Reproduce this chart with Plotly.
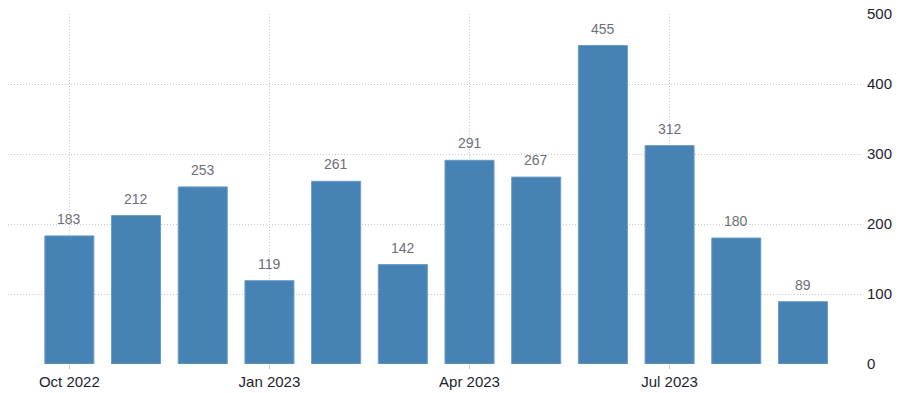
import plotly.graph_objects as go

months = ["Oct 2022", "Nov 2022", "Dec 2022", "Jan 2023", "Feb 2023", "Mar 2023",
          "Apr 2023", "May 2023", "Jun 2023", "Jul 2023", "Aug 2023", "Sep 2023"]
values = [183, 212, 253, 119, 261, 142, 291, 267, 455, 312, 180, 89]
tick_labels = ["Oct 2022", "Jan 2023", "Apr 2023", "Jul 2023"]
y_ticks = [0, 100, 200, 300, 400, 500]

idx = list(range(len(months)))
tick_idx = [months.index(t) for t in tick_labels]

FONT = "Liberation Sans, Arial, sans-serif"

fig = go.Figure()
fig.add_trace(go.Bar(
    x=idx, y=values, width=0.735,
    marker=dict(color="#4682b4", line=dict(color="#6b9cc6", width=1)),
    hoverinfo="skip",
))

for i, v in zip(idx, values):
    fig.add_annotation(x=i, y=v, text=str(v), showarrow=False,
                       yanchor="bottom", yshift=7,
                       font=dict(family=FONT, size=14, color="#6e6e78"))

fig.update_layout(
    width=900, height=393,
    margin=dict(l=8, r=37, t=14, b=29, autoexpand=False),
    paper_bgcolor="white", plot_bgcolor="white",
    showlegend=False,
    font=dict(family=FONT, size=14, color="#1e1e30"),
    xaxis=dict(
        range=[-0.92, 11.9], automargin=False,
        tickmode="array", tickvals=tick_idx, ticktext=tick_labels,
        showgrid=True, gridcolor="#c8c8c8", griddash="1px,2px", gridwidth=1,
        ticks="outside", ticklen=4, tickcolor="#c8c8c8",
        zeroline=False, showline=False,
        tickfont=dict(size=15, color="#1e1e30"),
    ),
    yaxis=dict(
        range=[0, 500], side="right", automargin=False,
        tickmode="array", tickvals=y_ticks,
        showgrid=True, gridcolor="#c8c8c8", griddash="1px,2px", gridwidth=1,
        zeroline=False, showline=False,
        ticklabelstandoff=3,
        tickfont=dict(size=15, color="#1e1e30"),
    ),
)

fig.write_html("out.html",
               config={"displayModeBar": False, "staticPlot": True},
               post_script="document.body.style.margin='0';document.body.style.overflow='hidden';")
